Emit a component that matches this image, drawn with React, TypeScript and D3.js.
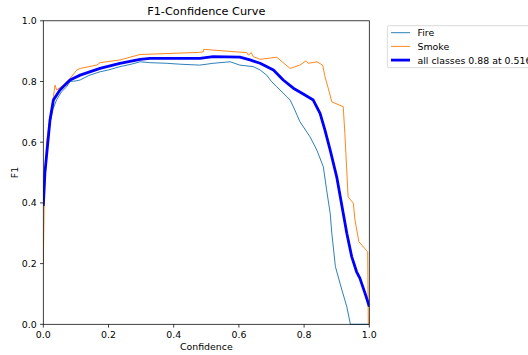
import React from "react";
import * as d3 from "d3";

const xTicks = [0, 0.2, 0.4, 0.6, 0.8, 1.0];
const yTicks = [0, 0.2, 0.4, 0.6, 0.8, 1.0];

const fireConf = [0,0.01,0.02,0.03,0.041,0.055,0.072,0.082,0.1,0.113,0.14,0.174,0.2,0.235,0.27,0.297,0.327,0.378,0.419,0.48,0.521,0.573,0.603,0.644,0.665,0.685,0.7,0.716,0.747,0.757,0.767,0.787,0.818,0.839,0.859,0.869,0.88,0.885,0.896,0.916,0.931,0.942,1.0];
const fireF1 = [0.41,0.55,0.66,0.71,0.74,0.765,0.783,0.8,0.802,0.805,0.82,0.832,0.838,0.849,0.857,0.865,0.862,0.86,0.857,0.854,0.86,0.865,0.854,0.849,0.838,0.821,0.8,0.783,0.75,0.739,0.717,0.668,0.618,0.574,0.519,0.443,0.366,0.3,0.19,0.113,0.058,0.0,0.0];

const smokeConf = [0,0.003,0.01,0.02,0.031,0.036,0.041,0.061,0.082,0.103,0.113,0.164,0.174,0.235,0.297,0.48,0.491,0.492,0.624,0.629,0.638,0.644,0.665,0.716,0.757,0.787,0.806,0.813,0.839,0.857,0.864,0.874,0.885,0.92,0.925,0.935,0.951,0.956,0.968,0.995,0.997,1.0];
const smokeF1 = [0.2,0.41,0.6,0.673,0.75,0.788,0.772,0.788,0.81,0.838,0.843,0.854,0.862,0.871,0.889,0.896,0.898,0.906,0.895,0.887,0.895,0.882,0.873,0.88,0.843,0.854,0.868,0.86,0.865,0.854,0.816,0.778,0.733,0.717,0.629,0.42,0.399,0.344,0.272,0.239,0.0,0.0];

const allConf = [0,0.005,0.0205,0.031,0.051,0.082,0.113,0.174,0.235,0.297,0.327,0.48,0.521,0.603,0.634,0.665,0.706,0.736,0.767,0.8,0.828,0.849,0.864,0.88,0.9,0.92,0.931,0.946,0.961,0.971,0.987,1.0];
const allF1 = [0.39,0.5,0.673,0.739,0.772,0.805,0.821,0.843,0.86,0.873,0.876,0.876,0.882,0.88,0.871,0.86,0.838,0.805,0.778,0.757,0.739,0.695,0.64,0.574,0.486,0.366,0.3,0.223,0.173,0.152,0.102,0.058];

const seriesNames = ["Fire", "Smoke", "all classes 0.88 at 0.516"];

const W = 528, H = 355;
const L = 43.3, R = 369.3, T = 20.8, B = 324.3;
const FONT = "DejaVu Sans, sans-serif";

export default function App() {
  const x = d3.scaleLinear().domain([0, 1]).range([L, R]);
  const y = d3.scaleLinear().domain([0, 1]).range([B, T]);
  const line = d3.line<[number, number]>().x(d => x(d[0])).y(d => y(d[1]));
  const zip = (a: number[], b: number[]) => a.map((v, i) => [v, b[i]] as [number, number]);
  const series = [
    { name: seriesNames[0], data: zip(fireConf, fireF1), color: "#1f77b4", w: 0.94 },
    { name: seriesNames[1], data: zip(smokeConf, smokeF1), color: "#ff7f0e", w: 0.94 },
    { name: seriesNames[2], data: zip(allConf, allF1), color: "#0000ff", w: 2.8 },
  ];
  const tl = 3.3;
  return (
    <svg width={W} height={H} style={{ position: "absolute", left: 0, top: 0, background: "#fff" }} fontFamily={FONT}>
      <defs>
        <clipPath id="pc"><rect x={L} y={T - 2} width={R - L} height={B - T + 4} /></clipPath>
      </defs>
      <rect x={0} y={0} width={W} height={H} fill="#fff" />
      <g clipPath="url(#pc)">
        {series.map(s => (
          <path key={s.name} d={line(s.data) || ""} fill="none" stroke={s.color} strokeWidth={s.w} strokeLinejoin="round" />
        ))}
      </g>
      <rect x={L} y={T} width={R - L} height={B - T} fill="none" stroke="#000" strokeWidth={0.75} />
      {xTicks.map(t => (
        <g key={"x" + t}>
          <line x1={x(t)} x2={x(t)} y1={B} y2={B + tl} stroke="#000" strokeWidth={0.75} />
          <text x={x(t)} y={B + tl + 3.3 + 7.2} fontSize={9.4} textAnchor="middle" fill="#000">{t.toFixed(1)}</text>
        </g>
      ))}
      {yTicks.map(t => (
        <g key={"y" + t}>
          <line x1={L - tl} x2={L} y1={y(t)} y2={y(t)} stroke="#000" strokeWidth={0.75} />
          <text x={L - tl - 3.3} y={y(t) + 3.4} fontSize={9.4} textAnchor="end" fill="#000">{t.toFixed(1)}</text>
        </g>
      ))}
      <text x={(L + R) / 2} y={350} fontSize={9.4} textAnchor="middle" fill="#000">Confidence</text>
      <text transform={`translate(${18},${(T + B) / 2}) rotate(-90)`} fontSize={9.4} textAnchor="middle" fill="#000">F1</text>
      <text x={(L + R) / 2} y={T - 5.5} fontSize={11.3} textAnchor="middle" fill="#000">F1-Confidence Curve</text>
      <g>
        <rect x={387.3} y={25.7} width={170} height={42} rx={2} fill="#fff" fillOpacity={0.8} stroke="#cccccc" strokeWidth={0.75} />
        {series.map((s, i) => (
          <g key={"lg" + i}>
            <line x1={391} x2={410} y1={32.7 + i * 13.7} y2={32.7 + i * 13.7} stroke={s.color} strokeWidth={s.w} />
            <text x={417.5} y={32.7 + i * 13.7 + 3.4} fontSize={9.4} fill="#000">{s.name}</text>
          </g>
        ))}
      </g>
    </svg>
  );
}
